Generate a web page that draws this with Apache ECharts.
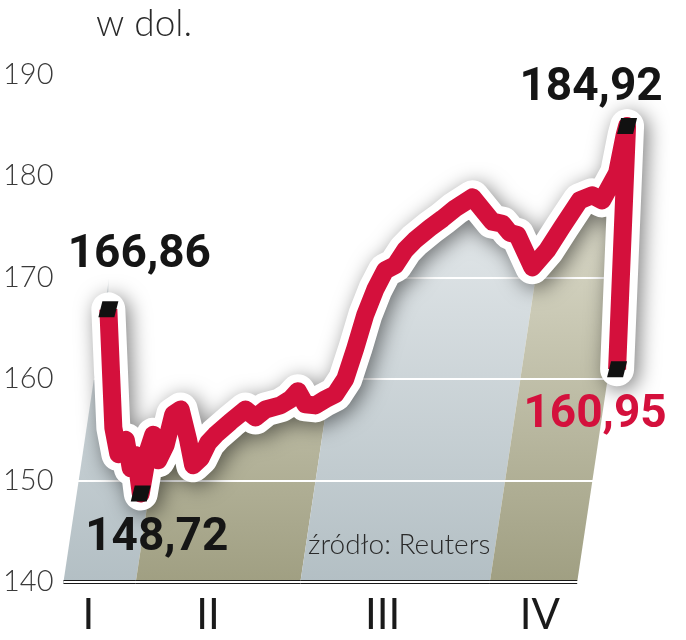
<!DOCTYPE html>
<html>
<head>
<meta charset="utf-8">
<script src="https://cdn.jsdelivr.net/npm/echarts@6/dist/echarts.min.js"></script>
<style>
  html, body { margin: 0; padding: 0; background: #fff; }
  #chart { width: 686px; height: 640px; }
</style>
</head>
<body>
<div id="chart"></div>
<script>
// trading-day index (x) and price in dollars (y)
const days = [18, 20, 22, 25, 27, 29, 31, 34, 36, 38, 41, 44, 47, 50, 52, 55, 58, 61, 67, 73,
  77, 81, 87, 91, 94, 97, 101, 105, 109, 113, 117, 121, 125, 129, 133, 137, 141, 147, 152, 157,
  164, 172, 176, 179, 182, 188, 194, 200, 207, 212, 216, 222, 225, 226, 222];
const prices = [166.86, 155.2, 152.6, 154.0, 151.2, 152.5, 148.72, 153.0, 154.5, 152.0, 153.5, 156.5, 157.0, 154.0, 151.5, 152.2, 153.7, 154.5, 155.8, 157.0,
  156.2, 157.0, 157.4, 158.0, 158.8, 157.5, 157.4, 158.0, 158.5, 160.0, 163.0, 166.3, 168.8, 170.7, 171.2, 172.7, 173.7, 174.9, 175.8, 176.8,
  177.9, 175.5, 175.3, 174.4, 174.2, 171.0, 172.7, 175.0, 177.6, 178.1, 177.6, 180.3, 184.0, 184.92, 160.95];

// quarters: band edges and label positions on the x scale
const quarterNames = ['I', 'II', 'III', 'IV'];
const quarterStart = [0, 29, 95, 171];
const quarterEnd = [29, 95, 171, 206];
const quarterLabelAt = [10, 58, 128, 191];

const RED = '#d4103c';
const SKEW = 0.15;
const BAND_TOP = 181;

const pts = days.map((d, i) => [d, prices[i]]);
const fmt = v => v.toFixed(2).replace('.', ',');

const iMin = prices.indexOf(Math.min(...prices));
const iMax = prices.indexOf(Math.max(...prices));
const keyPoints = [
  { i: 0, offset: [31, -54], color: '#151515' },
  { i: iMin, offset: [16, 45], color: '#151515' },
  { i: iMax, offset: [-36, -38], color: '#151515' },
  { i: prices.length - 1, offset: [-22, 46], color: RED }
];

const bandColors = [
  ['#b3bfc4', '#e8ecee'],
  ['#a09f82', '#e2e1d2']
];

const chart = echarts.init(document.getElementById('chart'));
chart.setOption({
  animation: false,
  grid: { left: 62, right: 34, top: 74.5, bottom: 58 },
  xAxis: {
    type: 'value', min: 0, max: 236,
    show: false
  },
  yAxis: {
    type: 'value', min: 140, max: 190, interval: 10,
    z: 3,
    axisLine: { show: false },
    axisTick: { show: false },
    axisLabel: {
      margin: 10,
      color: '#3a3a3a',
      fontFamily: 'Lato',
      fontWeight: 300,
      fontSize: 29
    },
    splitLine: { lineStyle: { color: '#ffffff', width: 2 } }
  },
  graphic: [
    {
      type: 'text', left: 96, top: 6, z: 20,
      style: { text: 'w dol.', font: '300 37px Lato', fill: '#2a2a2a' }
    },
    {
      type: 'text', left: 308, top: 531, z: 20,
      style: { text: 'źródło: Reuters', font: '300 28px Lato', fill: '#2a2a2a' }
    }
  ],
  series: [
    {
      type: 'custom',
      z: 1,
      clip: false,
      data: quarterNames.map((n, i) => [quarterStart[i], quarterEnd[i], quarterLabelAt[i], i]),
      renderItem: function (params, api) {
        const b0 = api.coord([api.value(0), 140]);
        const b1 = api.coord([api.value(1), 140]);
        const top = api.coord([api.value(0), BAND_TOP])[1];
        const h = b0[1] - top;
        const idx = api.value(3);
        const c = bandColors[idx % 2];
        const lab = api.coord([api.value(2), 140]);
        return {
          type: 'group',
          children: [
            {
              type: 'polygon',
              shape: { points: [b0, b1, [b1[0] + SKEW * h, top], [b0[0] + SKEW * h, top]] },
              style: {
                fill: new echarts.graphic.LinearGradient(0, 0, 0, 1, [
                  { offset: 0, color: c[1] },
                  { offset: 1, color: c[0] }
                ])
              }
            },
            {
              type: 'line',
              shape: { x1: b0[0], y1: b0[1], x2: b1[0], y2: b1[1] },
              style: { stroke: '#1a1a1a', lineWidth: 4 },
              z2: 10
            },
            {
              type: 'text',
              x: lab[0], y: lab[1] + 33,
              style: {
                text: quarterNames[idx],
                font: '400 42px Lato',
                fill: '#1a1a1a',
                align: 'center',
                verticalAlign: 'middle'
              }
            }
          ]
        };
      }
    },
    {
      // white cover above the price line
      type: 'line',
      z: 4,
      data: pts,
      showSymbol: false,
      lineStyle: { width: 0 },
      areaStyle: { color: '#ffffff', opacity: 1, origin: 'end' },
      silent: true
    },
    {
      type: 'line',
      z: 5,
      data: pts,
      showSymbol: false,
      lineStyle: {
        color: '#ffffff', width: 34, join: 'round', cap: 'round',
        shadowColor: 'rgba(0,0,0,0.5)', shadowBlur: 20, shadowOffsetX: 4, shadowOffsetY: 4
      },
      silent: true
    },
    {
      type: 'line',
      z: 6,
      data: pts,
      showSymbol: false,
      lineStyle: { color: RED, width: 18, join: 'round', cap: 'butt' },
      silent: true
    },
    {
      type: 'scatter',
      z: 7,
      symbol: 'path://M4,0 L20,0 L16,16 L0,16 Z',
      symbolSize: [20, 16],
      itemStyle: { color: '#111111', opacity: 1 },
      data: keyPoints.map(k => ({
        value: pts[k.i],
        label: {
          show: true,
          position: 'inside',
          offset: k.offset,
          formatter: fmt(prices[k.i]),
          color: k.color,
          opacity: 1,
          textBorderWidth: 0,
          fontFamily: 'Roboto',
          fontWeight: 'bold',
          fontSize: 46
        }
      }))
    }
  ]
});
</script>
</body>
</html>
